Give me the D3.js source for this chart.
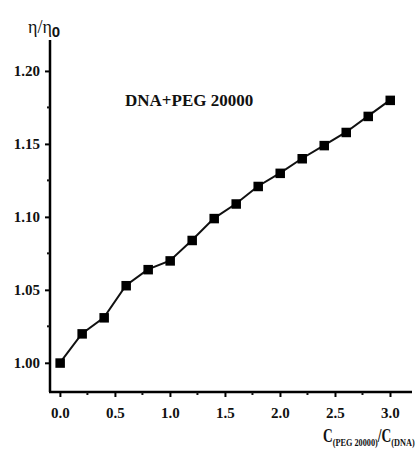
<!DOCTYPE html>
<html>
<head>
<meta charset="utf-8">
<script src="https://cdn.jsdelivr.net/npm/d3@7"></script>
<style>
body { margin: 0; background: #fff; }
svg text { font-family: "Liberation Serif", "Times New Roman", serif; font-weight: bold; fill: #111; }
</style>
</head>
<body>
<div class="viscosity-plot"></div>
<script>
// ratio C(PEG 20000)/C(DNA)
const ratios = [0.0, 0.2, 0.4, 0.6, 0.8, 1.0, 1.2, 1.4, 1.6, 1.8, 2.0, 2.2, 2.4, 2.6, 2.8, 3.0];
// relative viscosity eta/eta0
const viscosity = [1.000, 1.020, 1.031, 1.053, 1.064, 1.070, 1.084, 1.099, 1.109, 1.121, 1.130, 1.140, 1.149, 1.158, 1.169, 1.180];
const xTicks = [0.0, 0.5, 1.0, 1.5, 2.0, 2.5, 3.0];
const yTicks = [1.00, 1.05, 1.10, 1.15, 1.20];
const seriesLabel = "DNA+PEG 20000";

function draw_chart(){
    const width = 417;
    const height = 456;

    const svg = d3.select('.viscosity-plot')
        .append('svg')
        .attr('width', width)
        .attr('height', height);

    const x = d3.scaleLinear().domain([-0.09, 3.2]).range([50, 412]);
    const y = d3.scaleLinear().domain([0.98, 1.2212]).range([392, 40]);

    // y axis
    const yAxis = d3.axisLeft(y)
        .tickValues(yTicks)
        .tickFormat(d3.format(".2f"))
        .tickSize(5)
        .tickPadding(5);
    const gy = svg.append("g")
        .attr("transform", "translate(50,0)")
        .call(yAxis);
    gy.select(".domain").attr("stroke-width", 2.5).attr("d", "M0,392V40");
    gy.selectAll(".tick line").attr("stroke-width", 2);
    gy.selectAll(".tick text").attr("font-size", 15);
    gy.selectAll(".minor")
        .data([1.025, 1.075, 1.125, 1.175])
        .enter()
        .append("line")
        .attr("class", "minor")
        .attr("x1", -3)
        .attr("x2", 0)
        .attr("y1", d => y(d))
        .attr("y2", d => y(d))
        .attr("stroke", "#111")
        .attr("stroke-width", 2);

    // x axis
    const xAxis = d3.axisBottom(x)
        .tickValues(xTicks)
        .tickFormat(d3.format(".1f"))
        .tickSize(5)
        .tickPadding(10);
    const gx = svg.append("g")
        .attr("transform", "translate(0,392)")
        .call(xAxis);
    gx.select(".domain").attr("stroke-width", 2.5).attr("d", "M49,0H412");
    gx.selectAll(".tick line").attr("stroke-width", 2);
    gx.selectAll(".tick text").attr("font-size", 15);
    gx.selectAll(".minor")
        .data([0.25, 0.75, 1.25, 1.75, 2.25, 2.75])
        .enter()
        .append("line")
        .attr("class", "minor")
        .attr("x1", d => x(d))
        .attr("x2", d => x(d))
        .attr("y1", 0)
        .attr("y2", 3)
        .attr("stroke", "#111")
        .attr("stroke-width", 2);

    const points = ratios.map((r, i) => ({r: r, v: viscosity[i]}));

    const line = d3.line()
        .x(d => x(d.r))
        .y(d => y(d.v));

    svg.append("path")
        .datum(points)
        .attr("d", line)
        .attr("fill", "none")
        .attr("stroke", "#111")
        .attr("stroke-width", 2);

    svg.selectAll(".marker")
        .data(points)
        .enter()
        .append("rect")
        .attr("class", "marker")
        .attr("x", d => x(d.r) - 4.5)
        .attr("y", d => y(d.v) - 4.5)
        .attr("width", 9.5)
        .attr("height", 9.5)
        .attr("fill", "#000");

    svg.append("text")
        .attr("x", 125)
        .attr("y", 106)
        .attr("font-size", 17)
        .text(seriesLabel);

    // y label: eta / eta0
    const yl = svg.append("text")
        .attr("x", 28)
        .attr("y", 33)
        .attr("font-size", 18)
        .style("font-weight", "normal");
    yl.append("tspan").text("η/η");
    yl.append("tspan")
        .attr("dy", 4)
        .style("font-family", "'Liberation Sans', Arial, sans-serif")
        .style("font-weight", "bold")
        .attr("font-size", 15)
        .text("0");

    // x label: C(PEG 20000)/C(DNA), squeezed a bit to fit like the original
    const xg = svg.append("g");
    const xl = xg.append("text")
        .attr("x", 0)
        .attr("y", 0)
        .attr("font-size", 18);
    xl.append("tspan").text("C");
    xl.append("tspan").attr("dy", 4).attr("font-size", 11).text("(PEG 20000)");
    xl.append("tspan").attr("dy", -4).attr("font-size", 18).text("/C");
    xl.append("tspan").attr("dy", 4).attr("font-size", 11).text("(DNA)");
    const w = xl.node().getBBox().width;
    xg.attr("transform", "translate(323,442) scale(" + (92 / w) + ",1)");
}

draw_chart();
</script>
</body>
</html>
